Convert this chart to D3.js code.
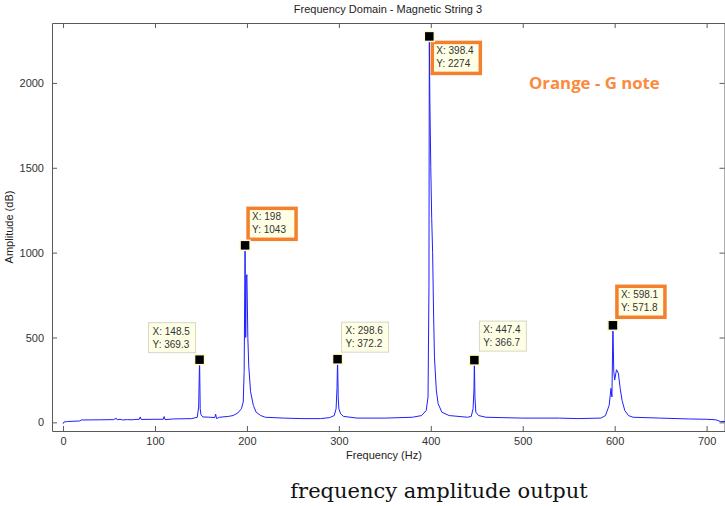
<!DOCTYPE html>
<html>
<head>
<meta charset="utf-8">
<script src="https://cdn.jsdelivr.net/npm/d3@7"></script>
<style>
  body { margin: 0; background: #fff; }
  svg { display: block; font-family: "Liberation Sans", Arial, sans-serif; }
</style>
</head>
<body>
<svg id="chart" width="725" height="506"></svg>
<script>
// spectrum: [frequency (Hz), amplitude]
const spectrum = [
  [0, -8], [1, 2], [5, 5], [18, 8], [20, 14], [40, 15], [55, 16], [58, 24], [59, 15],
  [62, 18], [65, 14], [70, 16], [75, 15], [78, 17], [83, 18], [84, 32], [85, 17],
  [100, 18], [109, 18], [110, 34], [111, 16], [120, 20], [140, 22], [146, 30],
  [147.5, 90], [148.5, 369.3], [149.2, 80], [150, 45], [152, 32], [160, 30], [165, 28],
  [166, 48], [167, 22], [170, 30], [180, 35], [185, 40], [190, 55], [194, 80], [196, 120],
  [197, 300], [198, 1043], [198.7, 500], [199.3, 850], [200, 870], [201, 500], [202, 330],
  [204, 180], [207, 100], [210, 60], [215, 40], [220, 30], [240, 25], [260, 22], [280, 22],
  [290, 28], [295, 40], [297, 80], [298, 200], [298.6, 372.2], [299.3, 150], [300, 80],
  [302, 50], [305, 35], [320, 25], [350, 25], [380, 30], [390, 40], [395, 70], [397, 150],
  [398, 800], [398.4, 2274], [399, 1900], [400, 1500], [401, 1200], [402, 1000], [403, 650],
  [404, 380], [406, 190], [408, 110], [412, 60], [420, 40], [440, 30], [444, 35], [446, 80],
  [447, 200], [447.4, 366.7], [448, 150], [449, 60], [452, 40], [460, 30], [500, 25],
  [540, 25], [560, 22], [585, 25], [590, 40], [594, 100], [596, 200], [597, 150],
  [598.1, 571.8], [599, 300], [600, 250], [602, 310], [604, 290], [606, 200], [608, 130],
  [611, 70], [615, 40], [620, 30], [650, 25], [680, 20], [700, 18], [710, 15], [715, 5], [720, 5]
];

// data tips: point, highlighted (orange) or not
const tipX = [148.5, 198, 298.6, 398.4, 447.4, 598.1];
const tipY = [369.3, 1043, 372.2, 2274, 366.7, 571.8];
const tipHighlight = [false, true, false, true, false, true];

const xTicks = [0, 100, 200, 300, 400, 500, 600, 700];
const yTicks = [0, 500, 1000, 1500, 2000];

const titleText = "Frequency Domain - Magnetic String 3";
const xLabel = "Frequency (Hz)";
const yLabel = "Amplitude (dB)";
const noteText = "Orange - G note";
const captionText = "frequency amplitude output";

const plotLeft = 52, plotRight = 725, plotTop = 23, plotBottom = 431;

const svg = d3.select("#chart");

const x = d3.scaleLinear().domain([-12, 720]).range([plotLeft, plotRight]);
const y = d3.scaleLinear().domain([-51, 2353]).range([plotBottom, plotTop]);

const axisColor = "#5a5a5a";
const tickLen = 5;

// axes box with inward ticks (MATLAB style)
const gx = svg.append("g")
  .attr("transform", `translate(0,${plotBottom})`)
  .call(d3.axisBottom(x).tickValues(xTicks).tickSize(-tickLen).tickPadding(8).tickSizeOuter(0));
const gxTop = svg.append("g")
  .attr("transform", `translate(0,${plotTop})`)
  .call(d3.axisTop(x).tickValues(xTicks).tickSize(-tickLen).tickFormat("").tickSizeOuter(0));
const gy = svg.append("g")
  .attr("transform", `translate(${plotLeft},0)`)
  .call(d3.axisLeft(y).tickValues(yTicks).tickFormat(d3.format("d"))
    .tickSize(-tickLen).tickPadding(8).tickSizeOuter(0));
const gyRight = svg.append("g")
  .attr("transform", `translate(${plotRight - 0.5},0)`)
  .call(d3.axisRight(y).tickValues(yTicks).tickSize(-tickLen).tickFormat("").tickSizeOuter(0));

[gx, gxTop, gy, gyRight].forEach(g => {
  g.select(".domain").attr("stroke", axisColor);
  g.selectAll(".tick line").attr("stroke", axisColor);
  g.selectAll(".tick text").attr("fill", "#333").attr("font-size", 11)
    .attr("font-family", "Liberation Sans, Arial, sans-serif");
});
gx.selectAll(".tick text").attr("dy", "0.5em");

// spectrum line
const line = d3.line().x(d => x(d[0])).y(d => y(d[1]));
svg.append("path")
  .datum(spectrum)
  .attr("fill", "none")
  .attr("stroke", "#1f1fff")
  .attr("stroke-width", 1)
  .attr("d", line);

// titles
svg.append("text").attr("x", 388).attr("y", 13).attr("text-anchor", "middle")
  .attr("font-size", 11).attr("fill", "#222").text(titleText);
svg.append("text").attr("x", 384).attr("y", 459).attr("text-anchor", "middle")
  .attr("font-size", 11).attr("fill", "#222").text(xLabel);
svg.append("text").attr("transform", "translate(13,227) rotate(-90)").attr("text-anchor", "middle")
  .attr("font-size", 11).attr("fill", "#222").text(yLabel);

svg.append("text").attr("x", 529).attr("y", 89)
  .attr("font-family", "Open Sans, sans-serif").attr("font-weight", "bold")
  .attr("font-size", 16.8).attr("fill", "#fb8a3c").text(noteText);

svg.append("text").attr("x", 439).attr("y", 498).attr("text-anchor", "middle")
  .attr("font-family", "DejaVu Serif, serif").attr("font-size", 21).attr("fill", "#111")
  .text(captionText);

// data tips
const tipOffsets = [[-51, -37], [3, -37], [4, -37], [3, 6], [5, -39], [4, -39]];
tipX.forEach((fx, i) => {
  const px = x(fx), py = y(tipY[i]);
  const bx = px + tipOffsets[i][0], by = py + tipOffsets[i][1];
  const w = tipHighlight[i] ? 48 : 47, h = tipHighlight[i] ? 31 : 30;
  svg.append("rect")
    .attr("x", bx).attr("y", by).attr("width", w).attr("height", h)
    .attr("fill", "#ffffe6")
    .attr("stroke", tipHighlight[i] ? "#f47f2c" : "#d6d6c8")
    .attr("stroke-width", tipHighlight[i] ? 3.5 : 1);
  svg.append("text").attr("x", bx + 4).attr("y", by + 12)
    .attr("font-size", 10).attr("fill", "#333").text(`X: ${fx}`);
  svg.append("text").attr("x", bx + 4).attr("y", by + 25)
    .attr("font-size", 10).attr("fill", "#333").text(`Y: ${tipY[i]}`);
  svg.append("rect")
    .attr("x", px - 5).attr("y", py - 5).attr("width", 10).attr("height", 10)
    .attr("fill", "#000").attr("stroke", "#fffbd0").attr("stroke-width", 1.5);
});
</script>
</body>
</html>
